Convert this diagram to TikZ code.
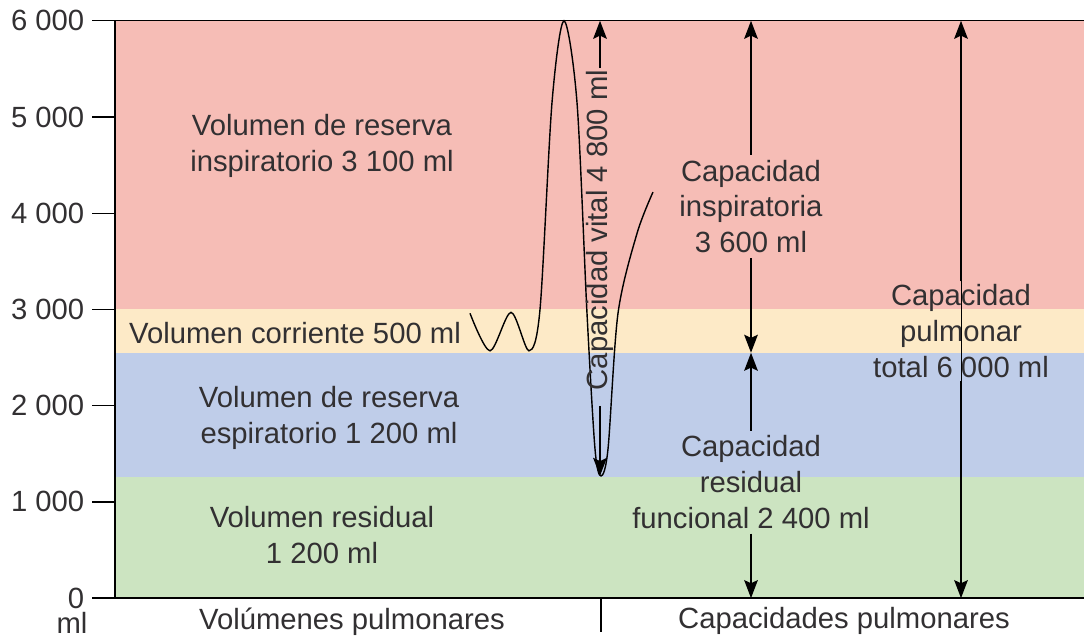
\documentclass[tikz,border=0pt]{standalone}
\usepackage{fontspec}
\setmainfont{Liberation Sans}
\usetikzlibrary{arrows.meta}
\definecolor{irvpink}{RGB}{246,189,182}
\definecolor{tvyellow}{RGB}{253,234,199}
\definecolor{ervblue}{RGB}{191,205,233}
\definecolor{rvgreen}{RGB}{204,228,193}
\definecolor{txtgray}{RGB}{50,48,50}
\begin{document}
\begin{tikzpicture}[x=0.025cm,y=2.405cm,
  every node/.style={font=\fontsize{20.8}{25.5}\selectfont,text=txtgray,align=center},
  arr/.style={line width=1.4pt,-{Stealth[length=0.45cm,width=0.34cm,inset=0.08cm]}},
  axis/.style={line width=1pt}]
\useasboundingbox (-115,-0.416) rectangle (969,6.216);
% bands
\fill[irvpink] (0,3) rectangle (969,6);
\fill[tvyellow] (0,2.55) rectangle (969,3);
\fill[ervblue] (0,1.26) rectangle (969,2.55);
\fill[rvgreen] (0,0) rectangle (969,1.26);
% axis
\draw[axis] (969,6) -- (0,6) -- (0,0) -- (969,0);
\foreach \y/\lab in {0/0,1/1 000,2/2 000,3/3 000,4/4 000,5/5 000,6/6 000}
  \draw[axis] (0,\y) -- (-23,\y) node[left,inner xsep=5pt,inner ysep=0pt] (tick\y) {\lab};
\node[inner sep=0pt] (mlunit) at (-43,-0.258) {ml};
\node[anchor=base] (volpul) at (237,-0.33) {Volúmenes pulmonares};
\node[anchor=base] (cappul) at (729,-0.32) {Capacidades pulmonares};
\draw[axis] (486,0) -- (486,-0.353);
% spirogram
\draw[line width=1pt] plot[smooth] coordinates {(355,2.96) (375,2.57) (396,2.97)
  (414,2.57) (425,3.0) (437,5.15) (449,6.0) (462,5.15) (472,2.96) (480,1.55)
  (486,1.27) (493,1.55) (503,2.96) (522,3.79) (538,4.22)};
% volumes
\node (irv) at (207,4.70) {Volumen de reserva\\inspiratorio 3 100 ml};
\node (tv) at (180,2.755) {Volumen corriente 500 ml};
\node (erv) at (214,1.876) {Volumen de reserva\\espiratorio 1 200 ml};
\node (rv) at (207,0.655) {Volumen residual\\1 200 ml};
% capacities
\node (ic) at (636,4.07) {Capacidad\\inspiratoria\\3 600 ml};
\node (frc) at (636,1.206) {Capacidad\\residual\\funcional 2 400 ml};
\node[inner ysep=2pt] (tlc) at (846,2.775) {Capacidad\\pulmonar\\total 6 000 ml};
\node[rotate=90,inner xsep=1pt] (vc) at (485,3.825) {Capacidad vital 4 800 ml};
\coordinate (ictop) at (636,6);
\coordinate (frctop) at (636,2.55);
\coordinate (frcbot) at (636,0);
\coordinate (tlctop) at (846,6);
\coordinate (tlcbot) at (846,0);
\coordinate (vctop) at (485,6);
\coordinate (vcbot) at (485,1.27);
\draw[arr] (ic) -- (ictop);
\draw[arr] (ic) -- (frctop);
\draw[arr] (frc) -- (frctop);
\draw[arr] (frc) -- (frcbot);
\draw[arr] (tlc) -- (tlctop);
\draw[arr] (tlc) -- (tlcbot);
\draw[line width=0.6pt] (tlc.north) -- (tlc.south);
\draw[arr] (vc) -- (vctop);
\draw[arr,shorten <=0.35cm] (vc) -- (vcbot);
\end{tikzpicture}
\end{document}
